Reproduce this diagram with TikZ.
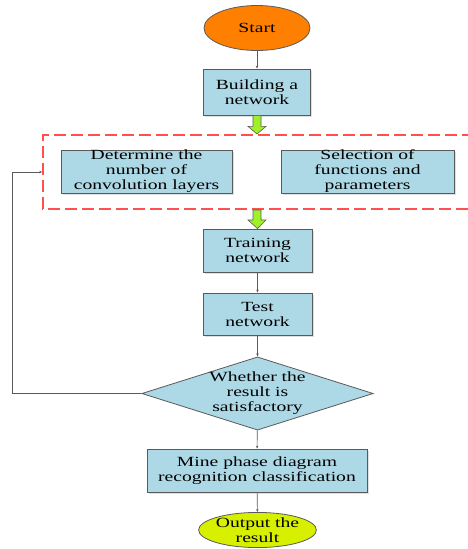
\documentclass[tikz,border=0pt]{standalone}
\usepackage{fontspec}
\setmainfont{Liberation Serif}[FakeStretch=1.4]
\usetikzlibrary{shapes.geometric,shadows,calc,arrows.meta}
\definecolor{boxblue}{RGB}{173,216,230}
\definecolor{startorange}{RGB}{255,128,0}
\definecolor{outyellow}{RGB}{215,240,0}
\definecolor{arrowgreen}{RGB}{160,240,40}
\definecolor{edgegray}{RGB}{90,90,90}
\definecolor{dashred}{RGB}{255,80,80}
\tikzset{
  txt/.style={font=\fontsize{14pt}{15pt}\selectfont, align=center, inner sep=0pt},
  procbox/.style={txt, rectangle, draw=edgegray, line width=0.8pt, fill=boxblue,
    drop shadow={shadow xshift=1.5pt, shadow yshift=-1.5pt, fill=gray!50}},
  termnode/.style={txt, ellipse, draw=edgegray, line width=0.8pt},
  conn/.style={draw=edgegray, line width=0.6pt, -{Stealth[length=3pt,width=2.5pt]}},
  blockarrow/.style={draw=edgegray, line width=0.6pt, fill=arrowgreen},
  groupline/.style={draw=dashred, line width=1.6pt, dash pattern=on 12pt off 5pt},
}
\begin{document}
\begin{tikzpicture}[x=1pt,y=-1pt]
\useasboundingbox (0,0) rectangle (468,549);
% dashed group (right side runs off the picture)
\coordinate (dtl) at (43,135);
\coordinate (dbl) at (43,209);
\coordinate (dtr) at (468,135);
\coordinate (dbr) at (468,209);
\draw[groupline] (dbr) -- (dbl) -- (dtl) -- (dtr);
\coordinate (fbin) at (42.2,172);
% nodes
\node[termnode, fill=startorange, minimum width=106pt, minimum height=45pt] (start) at (257,28) {Start};
\node[procbox, minimum width=107pt, minimum height=46pt] (build) at (257,92) {Building a\\network};
\node[procbox, minimum width=171pt, minimum height=43pt] (determine) at (146.5,171.5) {Determine the\\number of\\convolution layers};
\node[procbox, minimum width=173pt, minimum height=43pt] (select) at (367.5,171.5) {Selection of\\functions and\\parameters};
\node[procbox, minimum width=109pt, minimum height=43pt] (train) at (257.5,250.5) {Training\\network};
\node[procbox, minimum width=109pt, minimum height=42pt] (test) at (257.5,314) {Test\\network};
\node[txt, diamond, draw=edgegray, line width=0.8pt, fill=boxblue, aspect=3.16, minimum width=231pt, minimum height=73pt] (decide) at (257.5,393.5) {Whether the\\result is\\satisfactory};
\node[procbox, minimum width=220pt, minimum height=43pt] (mine) at (257,470.5) {Mine phase diagram\\recognition classification};
\node[termnode, fill=outyellow, minimum width=109pt, minimum height=34pt] (output) at (257.5,530) {Output the\\result};
% green block arrows
\coordinate (tip1) at (257,134);
\draw[blockarrow] ($(build.south)+(-4,0)$) -- ($(build.south)+(4,0)$) -- ($(build.south)+(4,11)$) -- ($(build.south)+(9,11)$) -- (tip1) -- ($(build.south)+(-9,11)$) -- ($(build.south)+(-4,11)$) -- cycle;
\coordinate (top2) at (257,210);
\draw[blockarrow] ($(top2)+(-4,0)$) -- ($(top2)+(4,0)$) -- ($(top2)+(4,10)$) -- ($(top2)+(9,10)$) -- (train.north) -- ($(top2)+(-9,10)$) -- ($(top2)+(-4,10)$) -- cycle;
% connectors
\draw[conn] (start) -- (build);
\draw[conn] (train) -- (test);
\draw[conn] (test) -- (decide);
\draw[conn] (decide) -- (mine);
\draw[conn] (mine) -- (output);
\draw[conn] (decide.west) -- (12,393.5) |- (fbin);
\end{tikzpicture}
\end{document}
